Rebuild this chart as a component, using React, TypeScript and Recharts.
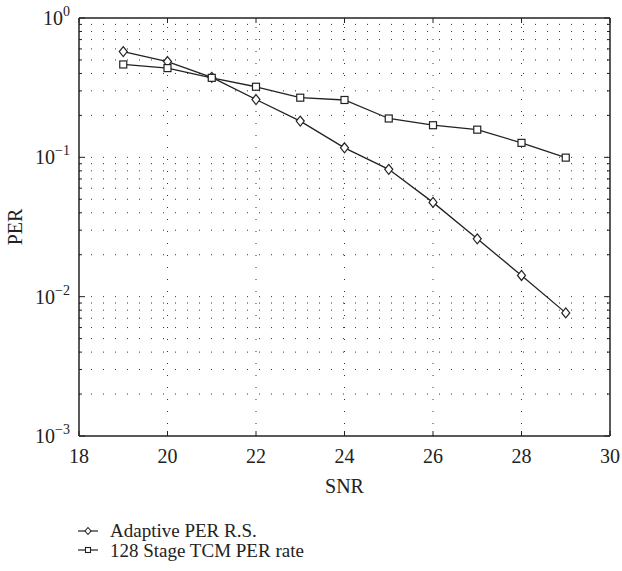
import React from 'react';
import { LineChart, Line, XAxis, YAxis, ReferenceLine, Legend } from 'recharts';

const snr = [19, 20, 21, 22, 23, 24, 25, 26, 27, 28, 29];
const adaptivePer = [0.574, 0.487, 0.375, 0.26, 0.182, 0.117, 0.082, 0.0475, 0.026, 0.0142, 0.00765];
const tcmPer = [0.464, 0.437, 0.372, 0.321, 0.268, 0.258, 0.19, 0.17, 0.158, 0.127, 0.0995];
const seriesNames = ['Adaptive PER R.S.', '128 Stage TCM PER rate'];

const xTicks = [18, 20, 22, 24, 26, 28, 30];
const xGrid = [20, 22, 24, 26, 28];
const yMajor = [0.001, 0.01, 0.1, 1];
const yMajorLabels = ['10', '10', '10', '10'];
const yMajorExp = ['\u22123', '\u22122', '\u22121', '0'];
const yMinor = [
  0.002, 0.003, 0.004, 0.005, 0.006, 0.007, 0.008, 0.009,
  0.02, 0.03, 0.04, 0.05, 0.06, 0.07, 0.08, 0.09,
  0.2, 0.3, 0.4, 0.5, 0.6, 0.7, 0.8, 0.9,
];
const yAll = [...yMajor, ...yMinor].sort((a, b) => a - b);
const yGrid = [...yMinor, 0.01, 0.1];

const data = snr.map((s, i) => ({ snr: s, adaptive: adaptivePer[i], tcm: tcmPer[i] }));

const FONT = '"Liberation Serif", "Times New Roman", serif';
const INK = '#222';

const isMajor = (v: number) => yMajor.some((m) => Math.abs(m - v) < 1e-9);

const YTickLeft = (props: any) => {
  const { x, y, payload } = props;
  const v = payload.value;
  const major = isMajor(v);
  const idx = yMajor.findIndex((m) => Math.abs(m - v) < 1e-9);
  return (
    <g>
      <line x1={x} x2={x + (major ? 6 : 3)} y1={y} y2={y} stroke={INK} strokeWidth={1} />
      {major && (
        <text x={x - 9} y={y + 7} textAnchor="end" fontFamily={FONT} fontSize={20} fill={INK}>
          <tspan>{yMajorLabels[idx]}</tspan>
          <tspan dy={-9} fontSize={14}>{yMajorExp[idx]}</tspan>
        </text>
      )}
    </g>
  );
};

const YTickRight = (props: any) => {
  const { x, y, payload } = props;
  const major = isMajor(payload.value);
  return <line x1={x} x2={x - (major ? 6 : 3)} y1={y} y2={y} stroke={INK} strokeWidth={1} />;
};

const XTickBottom = (props: any) => {
  const { x, y, payload } = props;
  return (
    <g>
      <line x1={x} x2={x} y1={y} y2={y - 5} stroke={INK} strokeWidth={1} />
      <text x={x} y={y + 27} textAnchor="middle" fontFamily={FONT} fontSize={20} fill={INK}>
        {payload.value}
      </text>
    </g>
  );
};

const XTickTop = (props: any) => {
  const { x, y } = props;
  return <line x1={x} x2={x} y1={y} y2={y + 5} stroke={INK} strokeWidth={1} />;
};

const DiamondDot = (props: any) => {
  const { cx, cy, index } = props;
  if (cx == null || cy == null) return <g key={`d-${index}`} />;
  return (
    <path
      key={`d-${index}`}
      d={`M${cx},${cy - 5}L${cx + 4},${cy}L${cx},${cy + 5}L${cx - 4},${cy}Z`}
      fill="#fff"
      stroke={INK}
      strokeWidth={1.2}
    />
  );
};

const SquareDot = (props: any) => {
  const { cx, cy, index } = props;
  if (cx == null || cy == null) return <g key={`s-${index}`} />;
  return (
    <rect key={`s-${index}`} x={cx - 3.5} y={cy - 3.5} width={7} height={7} fill="#fff" stroke={INK} strokeWidth={1.2} />
  );
};

const SnrLabel = (props: any) => {
  const vb = props.viewBox || {};
  return (
    <text x={vb.x + vb.width / 2} y={vb.y + 57} textAnchor="middle" fontFamily={FONT} fontSize={20} fill={INK}>
      SNR
    </text>
  );
};

const PerLabel = (props: any) => {
  const vb = props.viewBox || {};
  const cx = vb.x + 22;
  const cy = vb.y + vb.height / 2;
  return (
    <text x={cx} y={cy} textAnchor="middle" fontFamily={FONT} fontSize={20} fill={INK} transform={`rotate(-90, ${cx}, ${cy})`}>
      PER
    </text>
  );
};

const LegendContent = () => (
  <div style={{ fontFamily: FONT, fontSize: 19, color: INK }}>
    {seriesNames.map((name, i) => (
      <div key={name} style={{ display: 'flex', alignItems: 'center', height: 19.5, whiteSpace: 'nowrap' }}>
        <svg width={20} height={12} style={{ marginRight: 12, flex: 'none' }}>
          <line x1={0} x2={20} y1={6} y2={6} stroke={INK} strokeWidth={1.2} />
          {i === 0 ? (
            <path d="M10,2.5L13,6L10,9.5L7,6Z" fill="#fff" stroke={INK} strokeWidth={1.1} />
          ) : (
            <rect x={7.5} y={3.5} width={5} height={5} fill="#fff" stroke={INK} strokeWidth={1.1} />
          )}
        </svg>
        <span style={{ display: 'inline-block', height: 19, lineHeight: '19px', overflow: 'visible' }}>{name}</span>
      </div>
    ))}
  </div>
);

export default function App() {
  return (
    <div style={{ position: 'absolute', left: 0, top: 0, width: 622, height: 571, background: '#fff' }}>
      <LineChart width={622} height={571} data={data} margin={{ top: 0, right: 0, bottom: 0, left: 0 }}>
        <XAxis
          xAxisId="b"
          dataKey="snr"
          type="number"
          domain={[18, 30]}
          ticks={xTicks}
          interval={0}
          allowDataOverflow
          height={135}
          tickSize={0}
          tickMargin={0}
          tickLine={false}
          axisLine={{ stroke: INK, strokeWidth: 1.5 }}
          tick={XTickBottom}
          label={<SnrLabel />}
        />
        <XAxis
          xAxisId="t"
          orientation="top"
          dataKey="snr"
          type="number"
          domain={[18, 30]}
          ticks={xTicks}
          interval={0}
          allowDataOverflow
          height={18}
          tickSize={0}
          tickMargin={0}
          tickLine={false}
          axisLine={{ stroke: INK, strokeWidth: 1.5 }}
          tick={XTickTop}
        />
        <YAxis
          yAxisId="l"
          type="number"
          scale="log"
          domain={[0.001, 1]}
          ticks={yAll}
          interval={0}
          allowDataOverflow
          width={79}
          tickSize={0}
          tickMargin={0}
          tickLine={false}
          axisLine={{ stroke: INK, strokeWidth: 1.5 }}
          tick={YTickLeft}
          label={<PerLabel />}
        />
        <YAxis
          yAxisId="r"
          orientation="right"
          type="number"
          scale="log"
          domain={[0.001, 1]}
          ticks={yAll}
          interval={0}
          allowDataOverflow
          width={12}
          tickSize={0}
          tickMargin={0}
          tickLine={false}
          axisLine={{ stroke: INK, strokeWidth: 1.5 }}
          tick={YTickRight}
        />
        {yGrid.map((v) => (
          <ReferenceLine key={`hy-${v}`} xAxisId="b" yAxisId="l" y={v} stroke="#333" strokeWidth={1} strokeDasharray="1 11" />
        ))}
        {xGrid.map((v) => (
          <ReferenceLine key={`vx-${v}`} xAxisId="b" yAxisId="l" x={v} stroke="#333" strokeWidth={1} strokeDasharray="1 11" />
        ))}
        <Line
          xAxisId="b"
          yAxisId="l"
          dataKey="adaptive"
          name={seriesNames[0]}
          stroke={INK}
          strokeWidth={1.3}
          dot={DiamondDot}
          activeDot={false}
          isAnimationActive={false}
        />
        <Line
          xAxisId="b"
          yAxisId="l"
          dataKey="tcm"
          name={seriesNames[1]}
          stroke={INK}
          strokeWidth={1.3}
          dot={SquareDot}
          activeDot={false}
          isAnimationActive={false}
        />
        <Legend
          layout="vertical"
          align="center"
          verticalAlign="middle"
          content={<LegendContent />}
          wrapperStyle={{ left: 78, top: 521, width: 'auto' }}
        />
      </LineChart>
    </div>
  );
}
